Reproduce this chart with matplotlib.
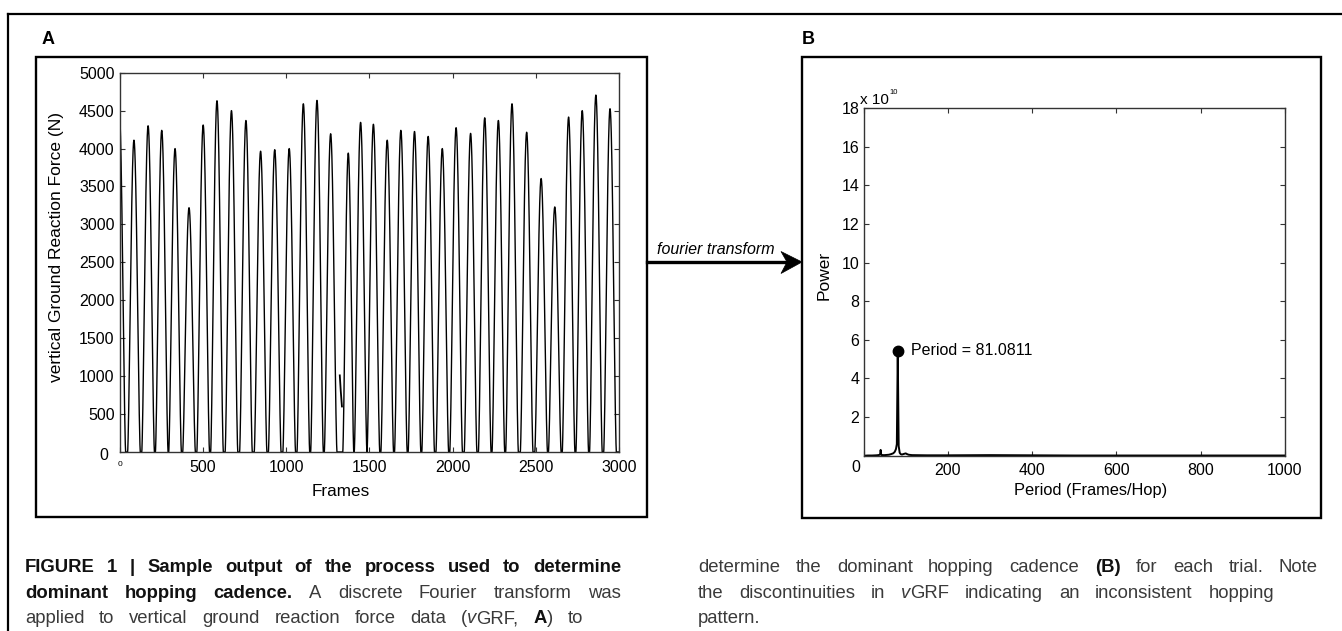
import matplotlib
matplotlib.use("Agg")
import matplotlib.pyplot as plt
import numpy as np
from matplotlib.patches import Rectangle, Polygon
from matplotlib.lines import Line2D

# ---------------- data ----------------
# Panel A: vertical ground reaction force, one entry per hop (frame of peak, peak force N)
hop_peak_frames = [-3, 85, 170, 252, 332, 416, 501, 584, 671, 758, 846, 931, 1018, 1103,
                   1185, 1267, 1373, 1447, 1524, 1607, 1689, 1771, 1853, 1938, 2021, 2108,
                   2193, 2275, 2357, 2445, 2532, 2614, 2697, 2779, 2861, 2946]
hop_peak_forces = [4470, 4110, 4300, 4240, 4000, 3220, 4310, 4630, 4500, 4370, 3965, 3985,
                   4000, 4590, 4635, 4195, 3940, 4345, 4320, 4110, 4240, 4225, 4160, 4000,
                   4275, 4200, 4405, 4370, 4590, 4215, 3605, 3230, 4415, 4500, 4705, 4525]
hop_contact_frames = [76] * 16 + [66] + [76] * 19
# isolated fragment (discontinuity) near frame 1330
glitch_frames = [1322, 1328, 1335]
glitch_forces = [1010, 800, 600]

# Panel B: power spectrum (power in units of 1e10) versus period (frames/hop)
period_B = [2, 10, 20, 30, 35, 38.5, 39.5, 40.5, 41.7, 43, 50, 60, 65, 70, 73.2, 75, 76.9,
            78.9, 81.0811, 83.3, 85.7, 88.2, 90.9, 93.8, 96.8, 100, 103.4, 107, 115, 150,
            200, 300, 400, 500, 600, 750, 1000]
power_B = [0.0, 0.01, 0.01, 0.02, 0.03, 0.05, 0.1, 0.3, 0.06, 0.03, 0.03, 0.05, 0.08, 0.12,
           0.18, 0.25, 0.35, 0.6, 5.43, 0.5, 0.15, 0.08, 0.06, 0.08, 0.1, 0.12, 0.08, 0.05,
           0.03, 0.02, 0.02, 0.03, 0.02, 0.01, 0.01, 0.01, 0.01]
peak_period = 81.0811
peak_power = 5.43

xticks_A = [0, 500, 1000, 1500, 2000, 2500, 3000]
yticks_A = [0, 500, 1000, 1500, 2000, 2500, 3000, 3500, 4000, 4500, 5000]
xticks_B = [0, 200, 400, 600, 800, 1000]
yticks_B = [2, 4, 6, 8, 10, 12, 14, 16, 18]

caption_left = [
    [("FIGURE 1 | Sample output of the process used to determine", "b")],
    [("dominant hopping cadence.", "b"), (" A discrete Fourier transform was", "n")],
    [("applied to vertical ground reaction force data (", "n"), ("v", "i"), ("GRF, ", "n"),
     ("A", "b"), (") to", "n")],
]
caption_right = [
    [("determine the dominant hopping cadence ", "n"), ("(B)", "b"), (" for each trial. Note", "n")],
    [("the discontinuities in ", "n"), ("v", "i"), ("GRF indicating an inconsistent hopping", "n")],
    [("pattern.", "n")],
]

# ---------------- figure ----------------
plt.rcParams["font.family"] = ["Liberation Sans", "DejaVu Sans"]
W_PX, H_PX = 1342, 631
fig = plt.figure(figsize=(W_PX / 100, H_PX / 100), dpi=100)


def fx(x):
    return x / W_PX


def fy(y):
    return 1 - y / H_PX


def ax_rect(l, t, r, b):
    return [fx(l), fy(b), (r - l) / W_PX, (b - t) / H_PX]


# outer frame (top and left only)
fig.add_artist(Line2D([fx(8), fx(1342)], [fy(14), fy(14)], color="k", lw=1.6))
fig.add_artist(Line2D([fx(8), fx(8)], [fy(14), fy(631)], color="k", lw=1.6))

# panel boxes
for (l, t, r, b) in [(35.5, 57, 647, 517), (802, 57, 1321, 518)]:
    fig.add_artist(Rectangle((fx(l), fy(b)), (r - l) / W_PX, (b - t) / H_PX,
                             fill=False, ec="k", lw=1.7, transform=fig.transFigure))

fig.text(fx(42), fy(40), "A", fontsize=13, fontweight="bold", ha="left", va="center")
fig.text(fx(802), fy(40), "B", fontsize=13, fontweight="bold", ha="left", va="center")

# ---------------- panel A ----------------
axA = fig.add_axes(ax_rect(119.8, 72.7, 619, 452))
frames = np.arange(0, 3001, 0.5)
force = np.zeros_like(frames)
for p, h, w in zip(hop_peak_frames, hop_peak_forces, hop_contact_frames):
    start = p - w / 2.0
    m = (frames >= start) & (frames <= start + w)
    force[m] = np.maximum(force[m], h * np.sin(np.pi * (frames[m] - start) / w) ** 1.5)
axA.plot(frames, force, color="k", lw=1.0)
axA.plot(glitch_frames, glitch_forces, color="k", lw=1.3)
axA.set_xlim(0, 3000)
axA.set_ylim(0, 5000)
axA.set_xticks(xticks_A)
axA.set_xticklabels([""] + [str(v) for v in xticks_A[1:]])
axA.set_yticks(yticks_A)
axA.set_yticklabels([""] + [str(v) for v in yticks_A[1:]])
axA.tick_params(axis="both", direction="in", length=3.5, width=0.8, color="#333333",
                top=True, right=True, labelsize=11.5)
axA.tick_params(axis="y", pad=3.7)
axA.tick_params(axis="x", pad=5.5)
for s in axA.spines.values():
    s.set_color("#333333")
    s.set_linewidth(1.0)
fig.text(fx(119.8), fy(464), "0", fontsize=6, ha="center", va="center")
fig.text(fx(108), fy(455), "0", fontsize=11.5, ha="right", va="center")
fig.text(fx(57), fy(247.5), "vertical Ground Reaction Force (N)", fontsize=12.5,
         rotation=90, ha="center", va="center")
fig.text(fx(341), fy(491), "Frames", fontsize=12.3, ha="center", va="center")

# ---------------- panel B ----------------
axB = fig.add_axes(ax_rect(863.6, 108, 1284.8, 455.7))
axB.plot(period_B, power_B, color="k", lw=1.4)
axB.plot([peak_period], [peak_power], "o", color="k", ms=7.5)
axB.annotate("Period = 81.0811", (peak_period, peak_power), xytext=(9.5, 0),
             textcoords="offset points", fontsize=11.5, ha="left", va="center")
axB.set_xlim(0, 1000)
axB.set_ylim(0, 18)
axB.set_xticks(xticks_B)
axB.set_xticklabels([""] + [str(v) for v in xticks_B[1:]])
axB.set_yticks(yticks_B)
axB.set_yticklabels([str(v) for v in yticks_B])
axB.tick_params(axis="both", direction="in", length=3.5, width=0.8, color="#333333",
                top=True, right=True, labelsize=11.5)
axB.tick_params(axis="y", pad=3.1)
axB.tick_params(axis="x", pad=5.0)
for s in axB.spines.values():
    s.set_color("#333333")
    s.set_linewidth(1.0)
fig.text(fx(855.6), fy(467), "0", fontsize=11.5, ha="center", va="center")
fig.text(fx(860), fy(104), "x 10", fontsize=11, ha="left", va="baseline")
fig.text(fx(889.5), fy(94), "10", fontsize=5.5, ha="left", va="baseline")
fig.text(fx(823.8), fy(275), "Power", fontsize=12.5, rotation=90, ha="center", va="center")
fig.text(fx(1091), fy(490.7), "Period (Frames/Hop)", fontsize=11.8, ha="center", va="center")

# ---------------- arrow ----------------
fig.add_artist(Line2D([fx(647), fx(788)], [fy(262), fy(262)], color="k", lw=2.4))
fig.add_artist(Polygon([(fx(802), fy(262)), (fx(781), fy(251.5)), (fx(787), fy(262)),
                        (fx(781), fy(273.5))], closed=True, fc="k", ec="k", lw=0.5,
                       transform=fig.transFigure))
fig.text(fx(657), fy(249.5), "fourier transform", fontsize=11.5, style="italic",
         ha="left", va="center")

# ---------------- caption (justified) ----------------
styles = {
    "n": dict(family=["Liberation Sans"], weight="normal", color="#3a3a3a",
              fontsize=13.3),
    "b": dict(family=["Liberation Sans"], weight="bold", color="#111111",
              fontsize=13.3),
    "i": dict(family=["Liberation Sans"], weight="normal", style="italic",
              color="#3a3a3a", fontsize=13.3),
}
renderer = fig.canvas.get_renderer()


def split_words(chunks):
    words = [[]]
    for text, st in chunks:
        parts = text.split(" ")
        for j, p in enumerate(parts):
            if j > 0:
                words.append([])
            if p:
                words[-1].append((p, st))
    return [w for w in words if w]


def draw_line(chunks, x0, x1, y_base, justify=True):
    words = split_words(chunks)
    objs = []
    widths = []
    for w in words:
        wo = []
        ww = 0
        for seg, st in w:
            t = fig.text(0, fy(y_base), seg, ha="left", va="baseline", **styles[st])
            bw = t.get_window_extent(renderer).width
            wo.append((t, bw))
            ww += bw
        objs.append(wo)
        widths.append(ww)
    total = sum(widths)
    if justify and len(words) > 1:
        gap = (x1 - x0 - total) / (len(words) - 1)
    else:
        gap = 5
    x = x0
    for wo, ww in zip(objs, widths):
        xx = x
        for t, bw in wo:
            t.set_x(fx(xx))
            xx += bw
        x += ww + gap


baselines = [572, 597.5, 623]
left_ends = [621, 621, 583]
right_ends = [1318, 1274, None]
for chunks, yb, xe in zip(caption_left, baselines, left_ends):
    draw_line(chunks, 24.8, xe, yb)
for chunks, yb, xe in zip(caption_right, baselines, right_ends):
    draw_line(chunks, 698, xe if xe else 1318, yb, justify=xe is not None)

fig.savefig("out.png", dpi=100)
